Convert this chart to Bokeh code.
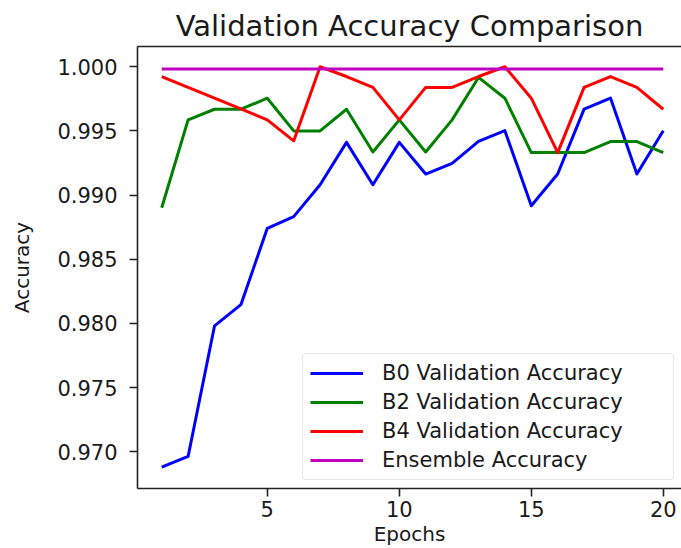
from bokeh.plotting import figure
from bokeh.models import (Range1d, LinearAxis, FixedTicker, PrintfTickFormatter,
                          Legend, LegendItem)
from bokeh.embed import file_html
from bokeh.resources import INLINE

epochs = list(range(1, 21))
b0_acc = [0.96879, 0.96963, 0.97980, 0.98146, 0.98741, 0.98832, 0.99081, 0.99411,
          0.99081, 0.99411, 0.99164, 0.99247, 0.99418, 0.99502, 0.98917, 0.99164,
          0.99670, 0.99756, 0.99164, 0.99502]
b2_acc = [0.98901, 0.99586, 0.99669, 0.99669, 0.99755, 0.99500, 0.99500, 0.99669,
          0.99336, 0.99586, 0.99336, 0.99586, 0.99917, 0.99755, 0.99331, 0.99331,
          0.99331, 0.99417, 0.99417, 0.99331]
b4_acc = [0.99924, 0.99840, 0.99756, 0.99671, 0.99586, 0.99422, 1.00000, 0.99924,
          0.99839, 0.99586, 0.99839, 0.99839, 0.99924, 1.00000, 0.99755, 0.99331,
          0.99839, 0.99924, 0.99839, 0.99669]
ensemble_acc = [0.99982] * 20

y_ticks = [0.970, 0.975, 0.980, 0.985, 0.990, 0.995, 1.000]
x_ticks = [5, 10, 15, 20]
series_names = ["B0 Validation Accuracy", "B2 Validation Accuracy",
                "B4 Validation Accuracy", "Ensemble Accuracy"]
series_colors = ["#0000ff", "#008000", "#ff0000", "#bf00bf"]

FONT = "DejaVu Sans"
TXT = "#1a1a1a"

p = figure(width=681, height=548, output_backend="svg", toolbar_location=None,
           x_range=Range1d(0.083, 20.69), y_range=Range1d(0.96713, 1.00158),
           min_border_left=137, min_border_right=0, min_border_top=46,
           min_border_bottom=60)
p.title.text = "Validation Accuracy Comparison"
p.title.text_font = FONT
p.title.text_font_size = "29px"
p.title.text_font_style = "normal"
p.title.text_color = TXT
p.title.align = "center"
p.title.standoff = 8

p.outline_line_color = None
p.xgrid.visible = False
p.ygrid.visible = False
p.background_fill_color = "white"
p.border_fill_color = "white"

for ax in (p.xaxis[0], p.yaxis[0]):
    ax.axis_line_color = "#222222"
    ax.axis_line_width = 1.6
    ax.major_tick_line_color = "#222222"
    ax.major_tick_line_width = 1.6
    ax.major_tick_out = 8
    ax.major_tick_in = 0
    ax.minor_tick_line_color = None
    ax.major_label_text_font = FONT
    ax.major_label_text_font_size = "21px"
    ax.major_label_text_color = TXT
    ax.axis_label_text_font = FONT
    ax.axis_label_text_font_size = "20px"
    ax.axis_label_text_font_style = "normal"
    ax.axis_label_text_color = TXT

p.xaxis.ticker = FixedTicker(ticks=x_ticks)
p.xaxis.axis_label = "Epochs"
p.xaxis.major_label_standoff = 4
p.xaxis.axis_label_standoff = 2

p.yaxis.ticker = FixedTicker(ticks=y_ticks)
p.yaxis.formatter = PrintfTickFormatter(format="%.3f")
p.yaxis.axis_label = "Accuracy"
p.yaxis.major_label_standoff = 12
p.yaxis.axis_label_standoff = 20

top_axis = LinearAxis(ticker=FixedTicker(ticks=[]), axis_line_color="#222222",
                      axis_line_width=1.6, major_tick_out=0, major_tick_in=0,
                      minor_tick_out=0, minor_tick_in=0, major_label_standoff=0,
                      axis_label_standoff=0)
p.add_layout(top_axis, "above")

items = []
for name, col, vals in zip(series_names, series_colors,
                           [b0_acc, b2_acc, b4_acc, ensemble_acc]):
    r = p.line(epochs, vals, line_color=col, line_width=3, line_join="round")
    items.append(LegendItem(label=name, renderers=[r]))

legend = Legend(items=items, location=(165, 8))
legend.label_text_font = FONT
legend.label_text_font_size = "21px"
legend.label_text_color = TXT
legend.glyph_width = 53
legend.glyph_height = 20
legend.label_height = 20
legend.label_width = 284
legend.label_standoff = 19
legend.spacing = 5
legend.padding = 7
legend.margin = 0
legend.border_line_color = "#d0d0d0"
legend.border_line_width = 1
legend.background_fill_color = "white"
legend.background_fill_alpha = 0.85
try:
    legend.border_radius = 4
except Exception:
    pass
p.add_layout(legend, "center")

open("out.html", "w").write(file_html(p, INLINE))
